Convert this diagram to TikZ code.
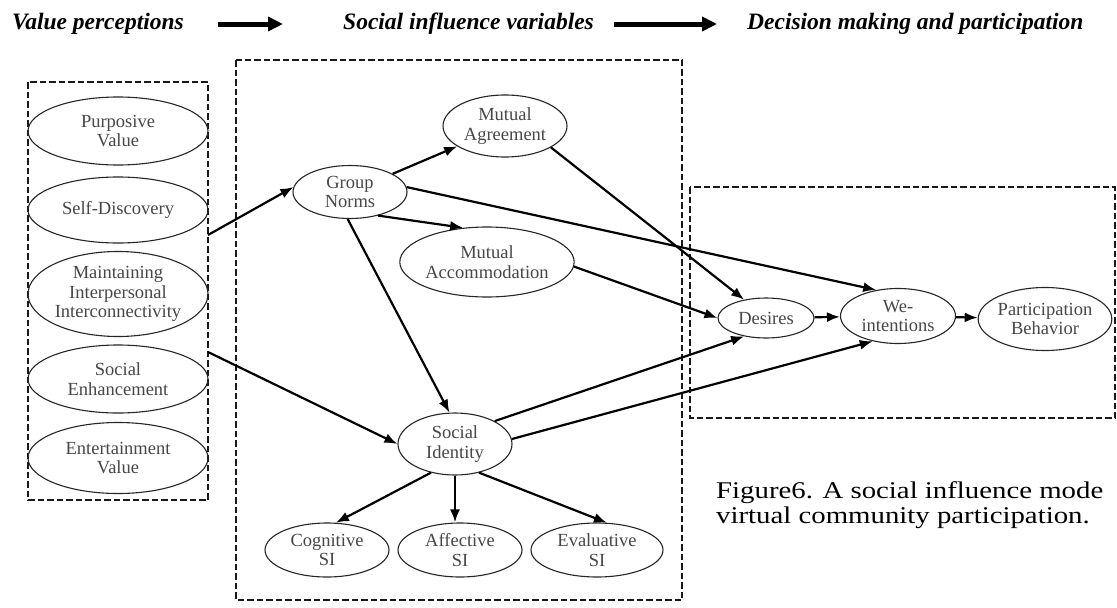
\documentclass[tikz,border=0pt]{standalone}
\usepackage{fontspec}
\setmainfont{Liberation Serif}
\usetikzlibrary{arrows.meta,shapes.geometric}
\begin{document}
\begin{tikzpicture}[x=1pt,y=-1pt,
  var/.style={ellipse, draw=black!85, line width=1.1pt, inner sep=0pt, align=center,
    text=black!72, font=\fontsize{18.5}{19.5}\selectfont},
  link/.style={line width=2.2pt, -{Latex[length=13pt,width=10pt]}},
  group/.style={draw=black!90, line width=1.8pt, dash pattern=on 6.5pt off 3pt},
  hdr/.style={font=\fontsize{23.5}{26}\selectfont\bfseries\itshape, anchor=west, inner sep=0pt},
  hdrarrow/.style={line width=5pt, -{Triangle[length=15pt,width=14pt]}}]

\clip (0,0) rectangle (1117,608);
\fill[white] (0,0) rectangle (1117,608);

% stage headings
\node[hdr] (h1) at (12,24) {Value perceptions};
\node[hdr] (h2) at (343,24) {Social influence variables};
\node[hdr] (h3) at (747,24) {Decision making and participation};
\draw[hdrarrow, shorten <=34pt, shorten >=60pt] (h1.east) -- (h2.west);
\draw[hdrarrow, shorten <=20pt, shorten >=30pt] (h2.east) -- (h3.west);

% grouping frames
\draw[group] (28,82) rectangle (208,500);
\draw[group] (236,60) rectangle (682,600);
\draw[group] (690,187) rectangle (1115,418);

% value perceptions
\node[var, minimum width=180pt, minimum height=68pt] (pv)  at (118,131) {Purposive\\Value};
\node[var, minimum width=180pt, minimum height=66pt] (sd)  at (118,210) {Self-Discovery};
\node[var, minimum width=180pt, minimum height=85pt] (mii) at (118,294) {Maintaining\\Interpersonal\\Interconnectivity};
\node[var, minimum width=180pt, minimum height=68pt] (se)  at (118,379) {Social\\Enhancement};
\node[var, minimum width=180pt, minimum height=71pt] (ev)  at (118,458) {Entertainment\\Value};
\coordinate (vpA) at (208,235);
\coordinate (vpB) at (208,352);

% social influence variables
\node[var, minimum width=114pt, minimum height=53pt] (gn)   at (350,192) {Group\\Norms};
\node[var, minimum width=124pt, minimum height=62pt] (ma)   at (505,126) {Mutual\\Agreement};
\node[var, minimum width=162pt, minimum height=70pt] (macc) at (487,262) {Mutual\\Accommodation};
\node[var, minimum width=114pt, minimum height=62pt] (si)   at (455,444) {Social\\Identity};
\node[var, minimum width=124pt, minimum height=54pt] (cog)  at (327,550) {Cognitive\\SI};
\node[var, minimum width=124pt, minimum height=54pt] (aff)  at (460,550) {Affective\\SI};
\node[var, minimum width=132pt, minimum height=54pt] (eva)  at (597,550) {Evaluative\\SI};

% decision making and participation
\node[var, minimum width=96pt,  minimum height=40pt] (des) at (766,318) {Desires};
\node[var, minimum width=115pt, minimum height=55pt] (we)  at (898,316) {We-\\intentions};
\node[var, minimum width=124pt, minimum height=63pt] (pb)  at (1045,319) {Participation\\Behavior};

% paths
\draw[link] (vpA) -- (gn.175);
\draw[link] (vpB) -- (si.west);
\draw[link] (gn) -- (ma);
\draw[link] (gn.-40) -- (macc.125);
\draw[link] (gn.5) -- (we.130);
\draw[link] (gn.265) -- (si.100);
\draw[link] (ma.-25) -- (des.140);
\draw[link] (macc.-3) -- (des.west);
\draw[link] (si.30) -- (des.-140);
\draw[link] (si.5) -- (we.-135);
\draw[link] (des) -- (we);
\draw[link] (we) -- (pb);
\draw[link] (si.-130) -- (cog.72);
\draw[link] (si.south) -- (si.south |- aff.north);
\draw[link] (si.-50) -- (eva.70);

% caption
\node[anchor=west, align=left, inner sep=0pt, font=\fontsize{24}{25}\selectfont] (cap) at (716,505)
  {\scalebox{1.2}[1]{Figure6. A social influence mode}\\\scalebox{1.2}[1]{virtual community participation.}};
\end{tikzpicture}
\end{document}
